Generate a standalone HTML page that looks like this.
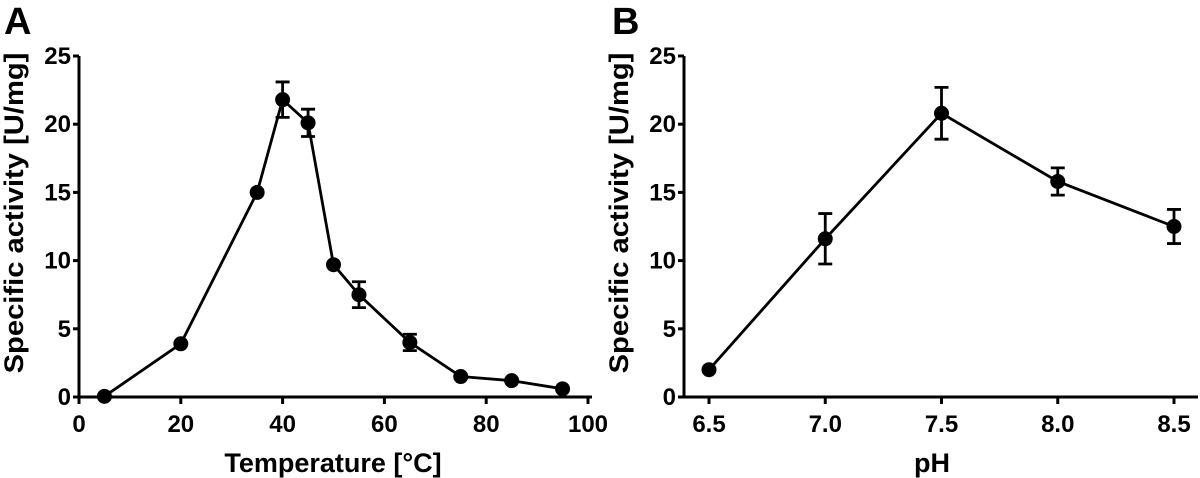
<!DOCTYPE html>
<html><head><meta charset="utf-8"><style>
html,body{margin:0;padding:0;background:#fff}
svg{display:block;font-family:"Liberation Sans",Arial,sans-serif;font-weight:bold}
</style></head><body>
<svg id="fig" width="1200" height="478" viewBox="0 0 1200 478">
<text x="4" y="34" font-size="38">A</text>
<text x="612" y="34" font-size="38">B</text>
</svg>
<script>
const tempX=[5,20,35,40,45,50,55,65,75,85,95];
const tempY=[0.05,3.9,15.0,21.8,20.1,9.7,7.5,4.0,1.5,1.2,0.6];
const tempErr=[0,0,0,1.3,1.0,0,0.95,0.6,0,0,0];
const phX=[6.5,7.0,7.5,8.0,8.5];
const phY=[2.0,11.6,20.8,15.8,12.5];
const phErr=[0,1.85,1.9,1.0,1.25];
const yTicks=[0,5,10,15,20,25];
const tempTicks=[0,20,40,60,80,100];
const phTicks=["6.5","7.0","7.5","8.0","8.5"];

const NS="http://www.w3.org/2000/svg";
const svg=document.getElementById('fig');
function mk(tag,attrs,parent){const e=document.createElementNS(NS,tag);for(const k in attrs)e.setAttribute(k,attrs[k]);(parent||svg).appendChild(e);return e;}

function panel(o){
  const g=mk('g',{});
  
  
  const sx=v=>o.x0+(v-o.d0)/(o.d1-o.d0)*(o.x1-o.x0);
  const sy=v=>397-v/25*341;
  const ax=mk('path',{d:`M${o.axX} 56 V397 H${o.axEnd}`,stroke:'#000','stroke-width':3,fill:'none'},g);
  
  
  yTicks.forEach(t=>{
    mk('line',{x1:o.axX-6,x2:o.axX,y1:sy(t),y2:sy(t),stroke:'#000','stroke-width':3},g);
    const tx=mk('text',{x:o.axX-8,y:sy(t)+8,'font-size':24,'text-anchor':'end'},g);
    tx.textContent=t;
    
    
  });
  o.ticks.forEach(t=>{
    const x=sx(parseFloat(t));
    mk('line',{x1:x,x2:x,y1:397,y2:404,stroke:'#000','stroke-width':3},g);
    const tx=mk('text',{x:x,y:432,'font-size':24,'text-anchor':'middle'},g);
    tx.textContent=t;
    
    
  });
  const yt=mk('text',{x:0,y:0,'font-size':27,'text-anchor':'middle',transform:`translate(${o.axX-56},213) rotate(-90) scale(1.08,1)`},g);
  yt.textContent='Specific activity [U/mg]';
  
  
  const xt=mk('text',{x:o.xtX,y:472,'font-size':27,'text-anchor':'middle'},g);
  xt.textContent=o.xTitle;
  
  
  const pts=o.xs.map((v,i)=>[sx(v),sy(o.ys[i])]);
  const ln=mk('polyline',{points:pts.map(p=>p.join(',')).join(' '),stroke:'#000','stroke-width':2.8,fill:'none'},g);
  
  
  o.xs.forEach((v,i)=>{
    const e=o.err[i];
    if(e>0){
      const x=sx(v),a=sy(o.ys[i]+e),b=sy(o.ys[i]-e);
      const eb=mk('path',{d:`M${x} ${a} V${b} M${x-7} ${a} H${x+7} M${x-7} ${b} H${x+7}`,stroke:'#000','stroke-width':2.8,fill:'none'},g);
      
      
    }
    const c=mk('circle',{cx:sx(v),cy:sy(o.ys[i]),r:7.5,fill:'#000'},g);
    
    
  });
}
panel({name:'temperature-chart',axX:79,axEnd:592,x0:79,x1:588,d0:0,d1:100,ticks:tempTicks.map(String),xs:tempX,ys:tempY,err:tempErr,xTitle:'Temperature [°C]',xtX:333});
panel({name:'ph-chart',axX:684,axEnd:1198,x0:709,x1:1174,d0:6.5,d1:8.5,ticks:phTicks,xs:phX,ys:phY,err:phErr,xTitle:'pH',xtX:932});
</script>
</body></html>
